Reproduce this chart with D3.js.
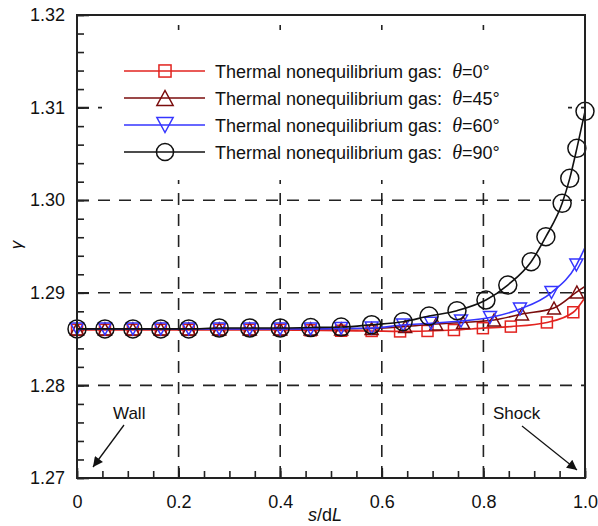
<!DOCTYPE html>
<html>
<head>
<meta charset="utf-8">
<script src="https://cdn.jsdelivr.net/npm/d3@7"></script>
<style>
  body { margin: 0; background: #fff; }
  text { font-family: "Liberation Sans", Arial, sans-serif; fill: #111; }
  .tick text { font-size: 18px; }
</style>
</head>
<body>
<svg id="chart" width="598" height="526"></svg>
<script>
// values (gamma vs s/dL)
const sBase = [0, 0.055, 0.11, 0.165, 0.22, 0.28, 0.34, 0.40, 0.46, 0.52, 0.58];

const s0 = sBase.concat([0.636, 0.690, 0.742, 0.799, 0.854, 0.925, 0.977, 1.0]);
const g0 = [1.2860, 1.2860, 1.2860, 1.2860, 1.2860, 1.2860, 1.2860, 1.2860, 1.28595, 1.2859, 1.28588,
            1.28583, 1.28588, 1.28598, 1.28618, 1.28635, 1.2868, 1.2879, 1.2895];

const s45 = sBase.concat([0.646, 0.707, 0.760, 0.821, 0.876, 0.939, 0.984, 1.0]);
const g45 = [1.2861, 1.2861, 1.2861, 1.2861, 1.2861, 1.2861, 1.2861, 1.2861, 1.2861, 1.2861, 1.28615,
             1.28636, 1.28663, 1.28679, 1.28706, 1.28771, 1.28836, 1.29009, 1.2907];

const s60 = sBase.concat([0.642, 0.697, 0.756, 0.813, 0.872, 0.934, 0.983, 1.0]);
const g60 = [1.2861, 1.2861, 1.2861, 1.2861, 1.2861, 1.2861, 1.2861, 1.2861, 1.2861, 1.28615, 1.2862,
             1.28652, 1.28671, 1.28695, 1.28733, 1.28825, 1.29003, 1.293, 1.2949];

const s90 = sBase.concat([0.642, 0.693, 0.748, 0.805, 0.848, 0.894, 0.923, 0.955, 0.970, 0.984, 1.0]);
const g90 = [1.2861, 1.2861, 1.2861, 1.2861, 1.2861, 1.2862, 1.2862, 1.2862, 1.28625, 1.2863, 1.28655,
             1.28688, 1.28749, 1.28807, 1.28922, 1.29084, 1.29336, 1.29606, 1.29966, 1.30236, 1.3056, 1.3096];

const thetas = ['0', '45', '60', '90'];
const xTicks = [0, 0.2, 0.4, 0.6, 0.8, 1.0];
const xTickLabels = ['0', '0.2', '0.4', '0.6', '0.8', '1.0'];
const yTicks = [1.27, 1.28, 1.29, 1.30, 1.31, 1.32];
const yTickLabels = ['1.27', '1.28', '1.29', '1.30', '1.31', '1.32'];

const series = [
  { s: s0, g: g0, theta: thetas[0], color: '#e2231f', shape: 'square', endMark: false },
  { s: s45, g: g45, theta: thetas[1], color: '#7a0c0c', shape: 'tri', endMark: false },
  { s: s60, g: g60, theta: thetas[2], color: '#3535ff', shape: 'itri', endMark: false },
  { s: s90, g: g90, theta: thetas[3], color: '#111111', shape: 'circle', endMark: true }
];

const svg = d3.select('#chart');
const pLeft = 77, pRight = 585, pTop = 15, pBottom = 478;

const xScale = d3.scaleLinear().domain([0, 1]).range([pLeft, pRight]);
const yScale = d3.scaleLinear().domain([1.27, 1.32]).range([pBottom, pTop]);

// dashed grid
const grid = svg.append('g')
  .attr('stroke', '#222')
  .attr('stroke-width', 1.6)
  .attr('stroke-dasharray', '12,9');

grid.selectAll('.vg')
  .data(xTicks.slice(1, -1))
  .enter()
  .append('line')
  .attr('x1', (d) => xScale(d))
  .attr('x2', (d) => xScale(d))
  .attr('y1', pBottom)
  .attr('y2', pTop);

grid.selectAll('.hg')
  .data(yTicks.slice(1, -1))
  .enter()
  .append('line')
  .attr('x1', pLeft)
  .attr('x2', pRight)
  .attr('y1', (d) => yScale(d))
  .attr('y2', (d) => yScale(d));

// legend background hides the grid behind it
svg.append('rect')
  .attr('x', 102)
  .attr('y', 30)
  .attr('width', 466)
  .attr('height', 150)
  .attr('fill', '#fff');

// axes, ticks pointing inward
svg.append('g')
  .attr('transform', `translate(${pLeft},0)`)
  .call(d3.axisLeft(yScale).tickValues(d3.range(1.27, 1.3201, 0.002)).tickSize(-7).tickFormat(''))
  .call((g) => g.select('.domain').remove());

svg.append('g')
  .attr('transform', `translate(${pLeft},0)`)
  .call(d3.axisLeft(yScale).tickValues(yTicks).tickSize(-12).tickPadding(12)
    .tickFormat((d, i) => yTickLabels[i]))
  .call((g) => g.select('.domain').remove());

svg.append('g')
  .attr('transform', `translate(0,${pBottom})`)
  .call(d3.axisBottom(xScale).tickValues(d3.range(0, 1.001, 0.05)).tickSize(-7).tickFormat(''))
  .call((g) => g.select('.domain').remove());

svg.append('g')
  .attr('transform', `translate(0,${pBottom})`)
  .call(d3.axisBottom(xScale).tickValues(xTicks).tickSize(-10).tickPadding(17)
    .tickFormat((d, i) => xTickLabels[i]))
  .call((g) => g.select('.domain').remove());

svg.selectAll('.tick line').attr('stroke', '#222').attr('stroke-width', 1.6);
svg.selectAll('.tick text').attr('fill', '#111');

// markers
function drawMarker(g, shape, color, cx, cy, big) {
  const k = big ? 1.25 : 1;
  if (shape === 'circle') {
    g.append('circle').attr('cx', cx).attr('cy', cy).attr('r', 9 * (big ? 0.95 : 1))
      .attr('fill', 'none').attr('stroke', color).attr('stroke-width', 1.5);
  } else if (shape === 'square') {
    const h = 5.5 * (big ? 1.1 : 1);
    g.append('rect').attr('x', cx - h).attr('y', cy - h).attr('width', 2 * h).attr('height', 2 * h)
      .attr('fill', 'none').attr('stroke', color).attr('stroke-width', 1.5);
  } else {
    const w = 6.5 * k, h = 6 * k;
    const pts = shape === 'tri'
      ? [[cx - w, cy + h], [cx + w, cy + h], [cx, cy - h]]
      : [[cx - w, cy - h], [cx + w, cy - h], [cx, cy + h]];
    g.append('path').attr('d', d3.line()(pts) + 'Z')
      .attr('fill', 'none').attr('stroke', color).attr('stroke-width', 1.5);
  }
}

const line = d3.line()
  .x((d) => xScale(d[0]))
  .y((d) => yScale(d[1]))
  .curve(d3.curveMonotoneX);

series.forEach((sr) => {
  const pts = sr.s.map((v, i) => [v, sr.g[i]]);
  const g = svg.append('g');
  g.append('path')
    .attr('d', line(pts))
    .attr('fill', 'none')
    .attr('stroke', sr.color)
    .attr('stroke-width', 1.6);
  const marks = sr.endMark ? pts : pts.slice(0, -1);
  marks.forEach((p) => drawMarker(g, sr.shape, sr.color, xScale(p[0]), yScale(p[1]), false));
});

// frame
svg.append('rect')
  .attr('x', pLeft)
  .attr('y', pTop)
  .attr('width', pRight - pLeft)
  .attr('height', pBottom - pTop)
  .attr('fill', 'none')
  .attr('stroke', '#222')
  .attr('stroke-width', 2);

// legend
const legend = svg.append('g');
series.forEach((sr, i) => {
  const y = 71 + i * 27;
  legend.append('line')
    .attr('x1', 124).attr('x2', 205).attr('y1', y).attr('y2', y)
    .attr('stroke', sr.color).attr('stroke-width', 1.6);
  drawMarker(legend, sr.shape, sr.color, 165, y, true);
  const t = legend.append('text')
    .attr('x', 215)
    .attr('y', y + 6.5)
    .attr('font-size', 18);
  t.append('tspan').text('Thermal nonequilibrium gas:\u00a0\u00a0');
  t.append('tspan')
    .attr('font-family', '"Liberation Serif", "Times New Roman", serif')
    .attr('font-style', 'italic')
    .attr('font-size', 20)
    .text('\u03b8');
  t.append('tspan').text(`=${sr.theta}\u00b0`);
});

// axis titles
const xt = svg.append('text')
  .attr('x', 325)
  .attr('y', 521)
  .attr('text-anchor', 'middle')
  .attr('font-size', 18);
xt.append('tspan').attr('font-style', 'italic').text('s');
xt.append('tspan').text('/d');
xt.append('tspan').attr('font-style', 'italic').text('L');

svg.append('text')
  .attr('transform', 'translate(22,245) rotate(-90)')
  .attr('text-anchor', 'middle')
  .attr('font-family', '"Liberation Serif", "Times New Roman", serif')
  .attr('font-style', 'italic')
  .attr('font-size', 17)
  .text('\u03b3');

// annotations
svg.append('defs').append('marker')
  .attr('id', 'head')
  .attr('viewBox', '0 0 10 10')
  .attr('refX', 10)
  .attr('refY', 5)
  .attr('markerWidth', 14)
  .attr('markerHeight', 10)
  .attr('markerUnits', 'userSpaceOnUse')
  .attr('orient', 'auto')
  .append('path')
  .attr('d', 'M0,0 L10,5 L0,10 Z')
  .attr('fill', '#111');

svg.append('text').attr('x', 113).attr('y', 419).attr('font-size', 17).text('Wall');
svg.append('line')
  .attr('x1', 124).attr('y1', 425).attr('x2', 93).attr('y2', 467)
  .attr('stroke', '#111').attr('stroke-width', 1.3)
  .attr('marker-end', 'url(#head)');

svg.append('text').attr('x', 493).attr('y', 419).attr('font-size', 17).text('Shock');
svg.append('line')
  .attr('x1', 522).attr('y1', 426).attr('x2', 577).attr('y2', 470)
  .attr('stroke', '#111').attr('stroke-width', 1.3)
  .attr('marker-end', 'url(#head)');
</script>
</body>
</html>
